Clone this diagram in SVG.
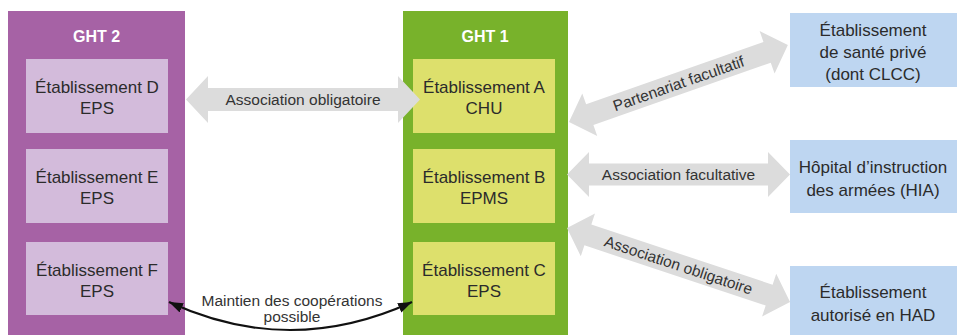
<svg xmlns="http://www.w3.org/2000/svg" width="957" height="335" viewBox="0 0 957 335">
<defs>
<style>
.t{font-family:"Liberation Sans",Arial,sans-serif;font-size:17px;fill:#2b2b2b;text-anchor:middle}
.l{font-family:"Liberation Sans",Arial,sans-serif;font-size:15.5px;fill:#333;text-anchor:middle}
.h{font-family:"Liberation Sans",Arial,sans-serif;font-size:16px;font-weight:bold;fill:#fff;text-anchor:middle}
.ga{fill:#dcdcdc}
.p{fill:#d3bbdb}
.y{fill:#dde06c}
.b{fill:#bed6f1}
</style>
<marker id="ah" markerUnits="userSpaceOnUse" markerWidth="15" markerHeight="11" refX="14" refY="5" orient="auto-start-reverse" viewBox="0 0 15 11">
<path d="M0,0 L14,5 L0,10 z" fill="#111"/>
</marker>
</defs>
<g id="ght2">
<rect x="8" y="11" width="177" height="324" fill="#a662a5"/>
<text class="h" x="96.5" y="42">GHT 2</text>
</g>
<g id="etabD"><rect class="p" x="26" y="59" width="142" height="74"/><text class="t" x="97" y="93">Établissement D</text><text class="t" x="97" y="114">EPS</text></g>
<g id="etabE"><rect class="p" x="26" y="149" width="142" height="74"/><text class="t" x="97" y="183">Établissement E</text><text class="t" x="97" y="204">EPS</text></g>
<g id="etabF"><rect class="p" x="26" y="242" width="142" height="73"/><text class="t" x="97" y="276">Établissement F</text><text class="t" x="97" y="297">EPS</text></g>
<g id="ght1">
<rect x="403" y="11" width="165" height="324" fill="#78b22b"/>
<text class="h" x="485" y="42">GHT 1</text>
</g>
<g id="etabA"><rect class="y" x="413" y="59" width="142" height="74"/><text class="t" x="484" y="93">Établissement A</text><text class="t" x="484" y="114">CHU</text></g>
<g id="etabB"><rect class="y" x="413" y="149" width="142" height="74"/><text class="t" x="484" y="183">Établissement B</text><text class="t" x="484" y="204">EPMS</text></g>
<g id="etabC"><rect class="y" x="413" y="242" width="142" height="73"/><text class="t" x="484" y="276">Établissement C</text><text class="t" x="484" y="297">EPS</text></g>
<g id="prive"><rect class="b" x="790" y="13" width="167" height="74"/><text class="t" x="873" y="36">Établissement</text><text class="t" x="873" y="58">de santé privé</text><text class="t" x="873" y="80">(dont CLCC)</text></g>
<g id="hia"><rect class="b" x="790" y="140" width="167" height="73"/><text class="t" x="873" y="173">Hôpital d’instruction</text><text class="t" x="873" y="196">des armées (HIA)</text></g>
<g id="had"><rect class="b" x="790" y="266" width="167" height="69"/><text class="t" x="873" y="298">Établissement</text><text class="t" x="873" y="321">autorisé en HAD</text></g>
<g id="connectors">
<g transform="translate(186,99.5)">
<path class="ga" d="M0,0 L22,-23.5 L22,-11.5 L212,-11.5 L212,-23.5 L234,0 L212,23.5 L212,11.5 L22,11.5 L22,23.5 z"/>
<text class="l" x="117" y="5.5">Association obligatoire</text>
</g>
<g transform="translate(567,174.5)">
<path class="ga" d="M0,0 L22,-22.5 L22,-11 L201,-11 L201,-22.5 L223,0 L201,22.5 L201,11 L22,11 L22,22.5 z"/>
<text class="l" x="111.5" y="5.5">Association facultative</text>
</g>
<g transform="translate(569,122) rotate(-19.37)">
<path class="ga" d="M0,0 L22,-22.5 L22,-11 L210,-11 L210,-22.5 L232,0 L210,22.5 L210,11 L22,11 L22,22.5 z"/>
<text class="l" x="116" y="5.5">Partenariat facultatif</text>
</g>
<g transform="translate(567,228) rotate(18.36)">
<path class="ga" d="M0,0 L22,-22.5 L22,-11 L213,-11 L213,-22.5 L235,0 L213,22.5 L213,11 L22,11 L22,22.5 z"/>
<text class="l" x="117.5" y="5.5">Association obligatoire</text>
</g>
<path d="M169,302 Q290,358 412,302" fill="none" stroke="#111" stroke-width="2.2" marker-start="url(#ah)" marker-end="url(#ah)"/>
<text class="l" x="292" y="306">Maintien des coopérations</text>
<text class="l" x="292" y="322">possible</text>
</g>
</svg>
